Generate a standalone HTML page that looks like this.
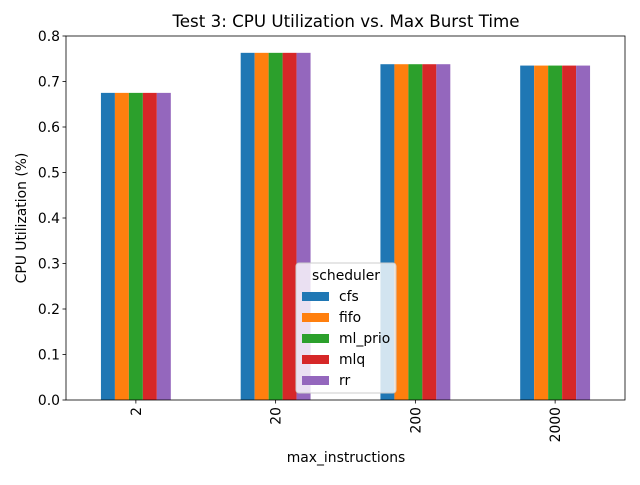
<!DOCTYPE html>
<html><head><meta charset="utf-8"><style>
body{margin:0;background:#fff;}
text{font-family:"DejaVu Sans","Liberation Sans",sans-serif;fill:#000;}
</style></head><body>
<svg id="chart" width="640" height="480">
<rect width="640" height="480" fill="#fff"/>
<text x="346" y="27" font-size="16.7" text-anchor="middle">Test 3: CPU Utilization vs. Max Burst Time</text>
<g id="bars"></g>
<g id="axes"></g>
<text x="346" y="462" font-size="13.9" text-anchor="middle">max_instructions</text>
<text transform="translate(26,218) rotate(-90)" font-size="13.9" text-anchor="middle">CPU Utilization (%)</text>
<g id="legend"></g>
</svg>
<script>
const categories=["2","20","200","2000"];
const seriesNames=["cfs","fifo","ml_prio","mlq","rr"];
const colors=["#1f77b4","#ff7f0e","#2ca02c","#d62728","#9467bd"];
const cfs=[0.675,0.763,0.738,0.735];
const fifo=[0.675,0.763,0.738,0.735];
const ml_prio=[0.675,0.763,0.738,0.735];
const mlq=[0.675,0.763,0.738,0.735];
const rr=[0.675,0.763,0.738,0.735];
const yTicks=[0,0.1,0.2,0.3,0.4,0.5,0.6,0.7,0.8];
const series=[cfs,fifo,ml_prio,mlq,rr];
const NS="http://www.w3.org/2000/svg";
const L=66,R=625,T=36,B=400,ymax=0.8;
const y=v=>B-(v/ymax)*(B-T);
const step=(R-L)/categories.length;
const xc=i=>L+step*(i+0.5);
const bw=step*0.5/series.length;
function mk(tag,attrs,parent){const e=document.createElementNS(NS,tag);for(const k in attrs)e.setAttribute(k,attrs[k]);parent.appendChild(e);return e;}
const gb=document.getElementById('bars');
series.forEach((s,si)=>{s.forEach((v,i)=>{
 const r=mk('rect',{x:xc(i)-step*0.25+si*bw,y:y(v),width:bw,height:B-y(v),fill:colors[si]},gb);
 
 
});});
const ga=document.getElementById('axes');
const fr=mk('rect',{x:L,y:T,width:R-L,height:B-T,fill:'none',stroke:'#000','stroke-width':0.8},ga);


yTicks.forEach(t=>{
 mk('line',{x1:L-3.5,x2:L,y1:y(t),y2:y(t),stroke:'#000','stroke-width':0.8},ga);
 const tx=mk('text',{x:L-6,y:y(t)+5,'font-size':13.9,'text-anchor':'end'},ga);
 tx.textContent=t.toFixed(1);
 
 
});
categories.forEach((c,i)=>{
 mk('line',{x1:xc(i),x2:xc(i),y1:B,y2:B+3.5,stroke:'#000','stroke-width':0.8},ga);
 const tx=mk('text',{x:0,y:0,'font-size':13.9,'text-anchor':'end',transform:`translate(${xc(i)+5},${B+7}) rotate(-90)`},ga);
 tx.textContent=c;
 
 
});
const gl=document.getElementById('legend');


mk('rect',{x:296,y:263,width:100,height:130,rx:3,fill:'#fff','fill-opacity':0.8,stroke:'#ccc'},gl);
const lt=mk('text',{x:346,y:280,'font-size':13.9,'text-anchor':'middle'},gl);
lt.textContent='scheduler';
seriesNames.forEach((n,i)=>{
 const yy=296+i*21;
 const g=mk('g',{},gl);
 
 
 mk('rect',{x:302,y:yy-4,width:27,height:9,fill:colors[i]},g);
 const t=mk('text',{x:339,y:yy+5,'font-size':13.9},g);
 t.textContent=n;
});
</script>
</body></html>
